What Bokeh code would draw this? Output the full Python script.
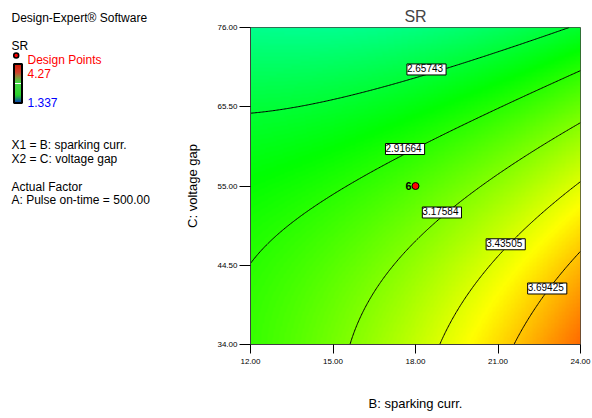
import numpy as np
from bokeh.plotting import figure
from bokeh.models import Range1d, FixedTicker, PrintfTickFormatter, LinearColorMapper
from bokeh.layouts import row
from bokeh.embed import file_html
from bokeh.resources import INLINE
from bokeh.core.properties import value

# ---------------- data ----------------
x_ticks = [12, 15, 18, 21, 24]
y_ticks = [34, 44.5, 55, 65.5, 76]
levels = [2.65743, 2.91664, 3.17584, 3.43505, 3.69425]
level_text = ["2.65743", "2.91664", "3.17584", "3.43505", "3.69425"]
sr_min, sr_max = 1.337, 4.27

# contour traces (B: sparking curr., C: voltage gap)
c1_b = [12.00, 15.45, 18.24, 19.09, 21.82, 23.45]
c1_c = [64.70, 67.00, 69.64, 70.30, 73.88, 76.00]
c2_b = [12.00, 13.64, 15.94, 17.76, 18.67, 19.39, 21.82, 24.00]
c2_c = [45.26, 50.43, 55.73, 59.27, 61.25, 62.49, 66.60, 70.30]
c3_b = [15.61, 16.67, 18.30, 19.03, 20.30, 21.94, 23.03, 24.00]
c3_c = [34.00, 41.60, 48.67, 50.87, 54.41, 58.38, 61.25, 63.30]
c4_b = [18.97, 19.64, 20.97, 22.55, 23.76, 24.00]
c4_c = [34.00, 39.39, 47.34, 52.64, 54.40, 55.29]
c5_b = [21.64, 22.42, 23.27, 24.00]
c5_c = [34.00, 39.39, 43.37, 46.02]
traces_b = [c1_b, c2_b, c3_b, c4_b, c5_b]
traces_c = [c1_c, c2_c, c3_c, c4_c, c5_c]

label_b = [18.40, 17.62, 18.96, 21.28, 22.79]
label_c = [70.44, 59.90, 51.49, 47.28, 41.42]

design_b = [18.0]
design_c = [55.0]
design_n = ["6"]

# ---------------- surface through the traced contours ----------------
pb, pc, pz = [], [], []
for lv, tb, tc in zip(levels, traces_b, traces_c):
    pb += tb; pc += tc; pz += [lv] * len(tb)
pb = np.array(pb); pc = np.array(pc); pz = np.array(pz)

def design(b, c):
    u = (b - 18.0) / 6.0
    v = (c - 55.0) / 21.0
    return np.stack([np.ones_like(u), u, v, u * v, u * u, v * v], axis=-1)

coef, *_ = np.linalg.lstsq(design(pb, pc), pz, rcond=None)
gb = np.linspace(12, 24, 240)
gc = np.linspace(34, 76, 240)
GB, GC = np.meshgrid(gb, gc)
Z = design(GB, GC) @ coef

def ramp(stops, t):
    for (t0, c0), (t1, c1) in zip(stops[:-1], stops[1:]):
        if t0 <= t <= t1:
            f = (t - t0) / (t1 - t0) if t1 > t0 else 0
            rgb = [int(round(a + (b - a) * f)) for a, b in zip(c0, c1)]
            return "#%02x%02x%02x" % tuple(rgb)
    return "#000000"

# colour map: blue - cyan - green - yellow - red
stops = [(0.0, (0, 0, 255)), (0.25, (0, 255, 255)), (0.5, (0, 255, 0)),
         (0.75, (255, 255, 0)), (1.0, (255, 0, 0))]
palette = [ramp(stops, i / 255) for i in range(256)]
mapper = LinearColorMapper(palette=palette, low=sr_min, high=sr_max)

FONT = "Liberation Sans"
TOP, BOTTOM = 27, 74

# ---------------- main plot ----------------
LEFT_W = 170
p = figure(width=592 - LEFT_W, height=418, x_range=Range1d(12, 24), y_range=Range1d(34, 76),
           toolbar_location=None, output_backend="svg",
           min_border_left=250 - LEFT_W, min_border_right=12, min_border_top=TOP, min_border_bottom=BOTTOM)
p.image(image=[Z], x=12, y=34, dw=12, dh=42, color_mapper=mapper)
p.contour(x=gb, y=gc, z=Z, levels=levels, line_color="black", line_width=1)

p.text(x=label_b, y=label_c, text=level_text, text_align="center", text_baseline="middle",
       text_font_size="10px", text_font=value(FONT), text_color="black",
       background_fill_color="white", border_line_color="black", border_line_width=1,
       padding=[0, 3, 0, 3], text_line_height=0.95)

p.scatter(x=design_b, y=design_c, size=7, fill_color="#ff0000", line_color="black", line_width=1)
p.text(x=design_b, y=design_c, text=design_n, x_offset=-4, text_align="right", text_baseline="middle",
       text_font_size="11px", text_font=value(FONT), text_font_style="bold", text_color="black")

p.title.text = "SR"
p.title.align = "center"
p.title.text_font = FONT
p.title.text_font_size = "16px"
p.title.text_font_style = "normal"
p.title.standoff = 6

p.xgrid.visible = False
p.ygrid.visible = False
p.outline_line_color = "#404040"
p.background_fill_color = "white"

for ax in (p.xaxis[0], p.yaxis[0]):
    ax.minor_tick_line_color = None
    ax.major_tick_in = 0
    ax.major_tick_line_color = "black"
    ax.axis_line_color = "#404040"
    ax.major_label_text_font = FONT
    ax.major_label_text_font_size = "8px"
    ax.major_label_text_color = "black"
    ax.axis_label_text_font = FONT
    ax.axis_label_text_font_size = "13px"
    ax.axis_label_text_font_style = "normal"
    ax.axis_label_text_color = "black"
    ax.formatter = PrintfTickFormatter(format="%.2f")

p.xaxis[0].ticker = FixedTicker(ticks=x_ticks)
p.yaxis[0].ticker = FixedTicker(ticks=y_ticks)
p.xaxis[0].major_tick_out = 9
p.xaxis[0].major_label_standoff = 5
p.xaxis[0].axis_label = "B: sparking curr."
p.xaxis[0].axis_label_standoff = 29
p.yaxis[0].major_tick_out = 11
p.yaxis[0].major_label_standoff = 2
p.yaxis[0].axis_label = "C: voltage gap"
p.yaxis[0].axis_label_standoff = 14

# ---------------- left info panel (data units = screen pixels) ----------------
q = figure(width=LEFT_W, height=418, x_range=Range1d(0, LEFT_W), y_range=Range1d(418 - BOTTOM, TOP),
           toolbar_location=None, output_backend="svg",
           min_border_left=0, min_border_right=0, min_border_top=TOP, min_border_bottom=BOTTOM)
q.axis.visible = False
q.xgrid.visible = False
q.ygrid.visible = False
q.outline_line_color = None

info_text = ["Design-Expert\u00ae Software", "SR", "X1 = B: sparking curr.", "X2 = C: voltage gap",
             "Actual Factor", "A: Pulse on-time = 500.00"]
info_x = [11, 11, 11, 11, 11, 11]
info_y = [17.5, 45.5, 144, 158, 186, 199.5]
rs = []
rs.append(q.text(x=info_x, y=info_y, text=info_text, text_font=value(FONT), text_font_size="12px",
                 text_color="black", text_baseline="alphabetic"))
rs.append(q.text(x=[27, 27, 27], y=[59, 73, 102], text=["Design Points", "4.27", "1.337"],
                 text_font=value(FONT), text_font_size="12px",
                 text_color=["#ff0000", "#ff0000", "#0000ff"], text_baseline="alphabetic"))
rs.append(q.scatter(x=[15.7], y=[55], size=5, fill_color="#ff0000", line_color="black", line_width=1.5))

# legend colour strip: red (top) - green - blue (bottom)
n = 40
top_px, bot_px = 63.5, 102.5
edges = np.linspace(top_px, bot_px, n + 1)
strip_stops = [(0.0, (210, 20, 0)), (0.22, (200, 25, 0)), (0.47, (0, 200, 0)),
               (0.8, (0, 200, 0)), (1.0, (0, 40, 200))]
strip_cols = [ramp(strip_stops, (i + 0.5) / n) for i in range(n)]
rs.append(q.quad(left=13.5, right=21.5, top=edges[:-1], bottom=edges[1:], fill_color=strip_cols,
                 line_color=None))
rs.append(q.segment(x0=[14.5], x1=[20.5], y0=[83], y1=[83], line_color="white", line_width=1))
rs.append(q.quad(left=[13.5], right=[21.5], top=[top_px], bottom=[bot_px], fill_color=None,
                 line_color="black", line_width=2))
for r in rs:
    r.level = "overlay"

layout = row(q, p)
open("out.html", "w").write(file_html(layout, INLINE))
